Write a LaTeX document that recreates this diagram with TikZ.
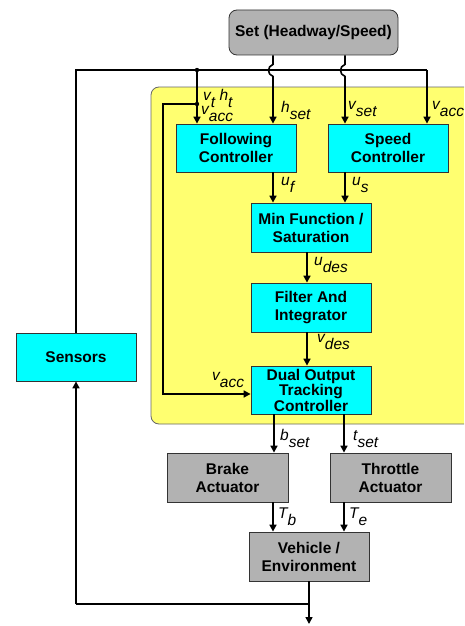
\documentclass[tikz,border=0pt]{standalone}
\usepackage{fontspec}
\setmainfont{Liberation Sans}
\usetikzlibrary{arrows.meta,calc}
\definecolor{cyanbox}{RGB}{0,255,255}
\definecolor{yel}{RGB}{255,255,112}
\definecolor{grbox}{RGB}{178,178,178}
\newcommand{\sbs}[2]{\textit{#1\raisebox{-7pt}{#2}}}
\begin{document}
\begin{tikzpicture}[x=1pt,y=-1pt,
 box/.style={draw=black!80, line width=0.8pt, fill=cyanbox, minimum width=120pt, minimum height=48pt, inner sep=0pt, align=center, font=\bfseries\fontsize{15.5}{18}\selectfont},
 gbox/.style={box, fill=grbox},
 conn/.style={line width=1.6pt, -{Triangle[length=7pt,width=7pt]}},
 wire/.style={line width=1.6pt},
 lbl/.style={anchor=base west, inner sep=0pt, font=\fontsize{15.5}{15.5}\selectfont}
]
\useasboundingbox (0,0) rectangle (464,626);
\clip (0,0) rectangle (464,626);
\fill[white] (0,0) rectangle (464,626);
\draw[fill=yel, draw=black!60, line width=0.8pt, rounded corners=8pt] (151,87) rectangle (480,424);

\node[gbox, rounded corners=8pt, minimum width=169pt, minimum height=45pt] (set) at (313.5,32.5) {Set (Headway/Speed)};
\node[box] (fc) at (236,148) {Following\\Controller};
\node[box] (sc) at (388,148) {Speed\\Controller};
\node[box, minimum height=49pt] (minf) at (311,227.5) {Min Function /\\Saturation};
\node[box, minimum height=49pt] (filt) at (311,307.5) {Filter And\\Integrator};
\node[box, font=\bfseries\fontsize{15.5}{13}\selectfont] (dual) at (311,390) {Dual Output\\Tracking\\Controller};
\node[box] (sens) at (76,357) {Sensors};
\node[gbox, minimum width=121pt, minimum height=49pt] (brake) at (227.5,477.5) {Brake\\Actuator};
\node[gbox, minimum width=121pt, minimum height=49pt] (thr) at (390.5,477.5) {Throttle\\Actuator};
\node[gbox, minimum height=49pt] (veh) at (309,556.5) {Vehicle /\\Environment};

\coordinate (tl) at (76,70);
\coordinate (tr) at (427,70);
\coordinate (d1) at (197,70);
\coordinate (d2) at (197,104);
\coordinate (il) at (163,104);
\coordinate (il2) at (163,394);
\coordinate (hx) at (273,0);
\coordinate (sx) at (345,0);
\coordinate (mx) at (307,0);
\coordinate (bx) at (274,0);
\coordinate (tx) at (344,0);
\coordinate (ax) at (273,0);
\coordinate (bj) at (309,604);
\coordinate (bl) at (76,604);
\coordinate (out) at (309,624);

\draw[wire] (sens.north) -- (tl) -- (tr);
\draw[conn] (tr) -- (tr |- sc.north);
\draw[conn] (d1) -- (d1 |- fc.north);
\draw[conn] (d2) -- (il) -- (il2) -- (il2 -| dual.west);
\fill (d1) circle (2.2);
\fill (d2) circle (2.2);

\draw[conn] (set.south -| hx) -- ++(0,9) .. controls +(-6,2) and +(-6,-2) .. ++(0,12) -- (hx |- fc.north);
\draw[conn] (set.south -| sx) -- ++(0,9) .. controls +(-6,2) and +(-6,-2) .. ++(0,12) -- (sx |- sc.north);

\draw[conn] (fc.south -| hx) -- (hx |- minf.north);
\draw[conn] (sc.south -| sx) -- (sx |- minf.north);
\draw[conn] (minf.south -| mx) -- (mx |- filt.north);
\draw[conn] (filt.south -| mx) -- (mx |- dual.north);
\draw[conn] (dual.south -| bx) -- (bx |- brake.north);
\draw[conn] (dual.south -| tx) -- (tx |- thr.north);
\draw[conn] (brake.south -| ax) -- (ax |- veh.north);
\draw[conn] (thr.south -| tx) -- (tx |- veh.north);
\draw[conn] (veh.south) -- (out);
\draw[wire] (bj) -- (bl);
\draw[conn] (bl) -- (sens.south);

\node[lbl] (l1) at (203,100) {\sbs{v}{t} \sbs{h}{t}};
\node[lbl] (l2) at (201,114) {\sbs{v}{acc}};
\node[lbl] (l3) at (281,112) {\sbs{h}{set}};
\node[lbl] (l4) at (348,109) {\sbs{v}{set}};
\node[lbl] (l5) at (432,109) {\sbs{v}{acc}};
\node[lbl] (l6) at (281,185) {\sbs{u}{f}};
\node[lbl] (l7) at (352,185) {\sbs{u}{s}};
\node[lbl] (l8) at (314,265) {\sbs{u}{des}};
\node[lbl] (l9) at (317,342) {\sbs{v}{des}};
\node[lbl] (l10) at (212,380) {\sbs{v}{acc}};
\node[lbl] (l11) at (280,440) {\sbs{b}{set}};
\node[lbl] (l12) at (353,440) {\sbs{t}{set}};
\node[lbl] (l13) at (278,518) {\sbs{T}{b}};
\node[lbl] (l14) at (349,518) {\sbs{T}{e}};
\end{tikzpicture}
\end{document}
